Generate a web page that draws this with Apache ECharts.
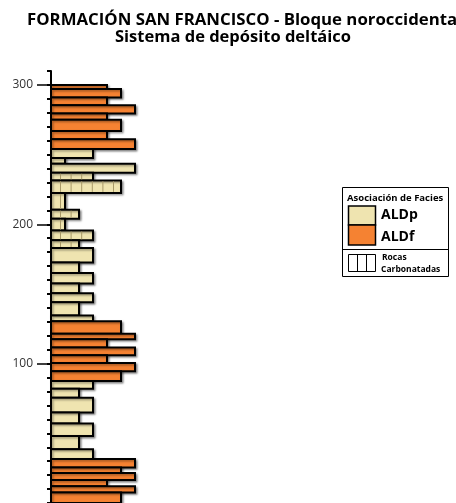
<!DOCTYPE html>
<html>
<head>
<meta charset="utf-8">
<script src="https://cdn.jsdelivr.net/npm/echarts@6/dist/echarts.min.js"></script>
<style>
  html, body { margin: 0; padding: 0; background: #fff; }
  #chart { width: 456px; height: 503px; }
</style>
</head>
<body>
<div id="chart"></div>
<script>
// Stratigraphic column: layer tops/bases in metres, grain-size class, facies association, carbonate flag
const techo = [300, 297, 291, 285.5, 279.5, 275, 267, 261, 254, 247.5, 243.5, 237, 231.5, 222.5, 210.5,
  204, 195.5, 188.5, 183, 172.5, 165, 157.5, 150.5, 144, 134.5, 130.5, 121.5, 117.5, 111.5, 106,
  100.5, 94.5, 87.5, 82, 75.5, 65, 57, 48, 38.5, 31.5, 25.5, 21.5, 16.5, 12, 7.5];
const base = [297, 291, 285.5, 279.5, 275, 267, 261, 254, 247.5, 243.5, 237, 231.5, 222.5, 210.5, 204,
  195.5, 188.5, 183, 172.5, 165, 157.5, 150.5, 144, 134.5, 130.5, 121.5, 117.5, 111.5, 106, 100.5,
  94.5, 87.5, 82, 75.5, 65, 57, 48, 38.5, 31.5, 25.5, 21.5, 16.5, 12, 7.5, 0];
const granulometria = [4, 5, 4, 6, 4, 5, 4, 6, 3, 1, 6, 3, 5, 1, 2,
  1, 3, 2, 3, 2, 3, 2, 3, 2, 3, 5, 6, 4, 6, 4,
  6, 5, 3, 2, 3, 2, 3, 2, 3, 6, 5, 6, 4, 6, 5];
const facies = ['ALDf', 'ALDf', 'ALDf', 'ALDf', 'ALDf', 'ALDf', 'ALDf', 'ALDf', 'ALDp', 'ALDp', 'ALDp', 'ALDp', 'ALDp', 'ALDp', 'ALDp',
  'ALDp', 'ALDp', 'ALDp', 'ALDp', 'ALDp', 'ALDp', 'ALDp', 'ALDp', 'ALDp', 'ALDp', 'ALDf', 'ALDf', 'ALDf', 'ALDf', 'ALDf',
  'ALDf', 'ALDf', 'ALDp', 'ALDp', 'ALDp', 'ALDp', 'ALDp', 'ALDp', 'ALDp', 'ALDf', 'ALDf', 'ALDf', 'ALDf', 'ALDf', 'ALDf'];
const carbonato = [0, 0, 0, 0, 0, 0, 0, 0, 0, 0, 0, 1, 1, 1, 1,
  1, 1, 1, 0, 0, 0, 0, 0, 0, 0, 0, 0, 0, 0, 0,
  0, 0, 0, 0, 0, 0, 0, 0, 0, 0, 0, 0, 0, 0, 0];
const marcasMayores = [100, 200, 300];
const etiquetasProfundidad = [100, 200, 300];

const colores = { ALDp: '#EFE4B0', ALDf: '#F58232' };
const colorTrama = '#A89968';

const datos = techo.map((t, i) => [t, base[i], granulometria[i], facies[i] === 'ALDf' ? 1 : 0, carbonato[i]]);

function dibujarCapa(params, api) {
  const t = api.value(0), b = api.value(1), g = api.value(2);
  const esF = api.value(3) === 1, carb = api.value(4) === 1;
  const p0 = api.coord([0, t]);
  const p1 = api.coord([g, b]);
  const x = p0[0], y = p0[1], w = p1[0] - p0[0], h = p1[1] - p0[1];
  const hijos = [{
    type: 'rect',
    shape: { x: x, y: y, width: w, height: h },
    style: {
      fill: esF ? colores.ALDf : colores.ALDp,
      stroke: '#000', lineWidth: 2,
      shadowColor: 'rgba(0,0,0,0.35)', shadowBlur: 2, shadowOffsetX: 1.5, shadowOffsetY: 1.5
    },
    z2: 1
  }];
  if (carb) {
    // vertical hatching for carbonate rocks
    for (let lx = x + 9.5; lx < x + w - 2; lx += 10.6) {
      hijos.push({
        type: 'line',
        shape: { x1: lx, y1: y + 1, x2: lx, y2: y + h - 1 },
        style: { stroke: colorTrama, lineWidth: 1 },
        z2: 2
      });
    }
  }
  return { type: 'group', children: hijos };
}

const chart = echarts.init(document.getElementById('chart'), null, { renderer: 'canvas' });
const fuente = '"Open Sans", sans-serif';

chart.setOption({
  animation: false,
  backgroundColor: '#fff',
  title: [
    { text: 'FORMACIÓN SAN FRANCISCO - Bloque noroccidental', left: 27, top: 12, padding: 0,
      textStyle: { fontFamily: fuente, fontWeight: 'bold', fontSize: 16.8, color: '#000' } },
    { text: 'Sistema de depósito deltáico', left: 115, top: 29, padding: 0,
      textStyle: { fontFamily: fuente, fontWeight: 'bold', fontSize: 16.5, color: '#000' } }
  ],
  grid: { left: 51, top: 71, width: 84, height: 434, containLabel: false },
  xAxis: { type: 'value', min: 0, max: 6, show: false },
  yAxis: [
    {
      type: 'value', min: 0, max: 310, interval: 10, position: 'left',
      axisLine: { show: true, lineStyle: { color: '#000', width: 2 } },
      axisTick: { show: true, length: 4, lineStyle: { color: '#000', width: 2 } },
      axisLabel: { show: false },
      splitLine: { show: false }
    },
    {
      type: 'value', min: 0, max: 310, position: 'left', offset: 0,
      axisLine: { show: false },
      axisTick: { show: true, length: 14, customValues: marcasMayores, lineStyle: { color: '#000', width: 1.5 } },
      axisLabel: { show: true, customValues: etiquetasProfundidad, margin: 18,
        fontFamily: fuente, fontSize: 12, color: '#333' },
      splitLine: { show: false }
    }
  ],
  series: [{
    type: 'custom',
    renderItem: dibujarCapa,
    encode: { x: 2, y: [0, 1] },
    data: datos,
    clip: false
  }],
  graphic: [
    { type: 'rect', shape: { x: 342.5, y: 187.5, width: 106, height: 89 },
      style: { fill: '#fff', stroke: '#000', lineWidth: 1 } },
    { type: 'text', x: 347, y: 198, style: { text: 'Asociación de Facies', fontFamily: fuente, fontWeight: 'bold',
      fontSize: 9.5, fill: '#000', verticalAlign: 'middle' } },
    { type: 'rect', shape: { x: 348.5, y: 206, width: 27, height: 19 },
      style: { fill: colores.ALDp, stroke: '#000', lineWidth: 1.5 } },
    { type: 'rect', shape: { x: 348.5, y: 225, width: 27, height: 20 },
      style: { fill: colores.ALDf, stroke: '#000', lineWidth: 1.5 } },
    { type: 'text', x: 381, y: 215.5, style: { text: 'ALDp', fontFamily: fuente, fontWeight: 'bold',
      fontSize: 14, fill: '#000', verticalAlign: 'middle' } },
    { type: 'text', x: 381, y: 237.5, style: { text: 'ALDf', fontFamily: fuente, fontWeight: 'bold',
      fontSize: 14, fill: '#000', verticalAlign: 'middle' } },
    { type: 'line', shape: { x1: 342.5, y1: 249.5, x2: 448.5, y2: 249.5 }, style: { stroke: '#000', lineWidth: 1 } },
    { type: 'rect', shape: { x: 348.5, y: 254.5, width: 27, height: 17 },
      style: { fill: '#fff', stroke: '#000', lineWidth: 1 } },
    { type: 'line', shape: { x1: 357.5, y1: 254.5, x2: 357.5, y2: 271.5 }, style: { stroke: '#000', lineWidth: 1 } },
    { type: 'line', shape: { x1: 366.5, y1: 254.5, x2: 366.5, y2: 271.5 }, style: { stroke: '#000', lineWidth: 1 } },
    { type: 'text', x: 382, y: 258, style: { text: 'Rocas', fontFamily: fuente, fontWeight: 'bold',
      fontSize: 8.5, fill: '#000', verticalAlign: 'middle' } },
    { type: 'text', x: 381, y: 269.5, style: { text: 'Carbonatadas', fontFamily: fuente, fontWeight: 'bold',
      fontSize: 8.5, fill: '#000', verticalAlign: 'middle' } }
  ]
});
</script>
</body>
</html>
